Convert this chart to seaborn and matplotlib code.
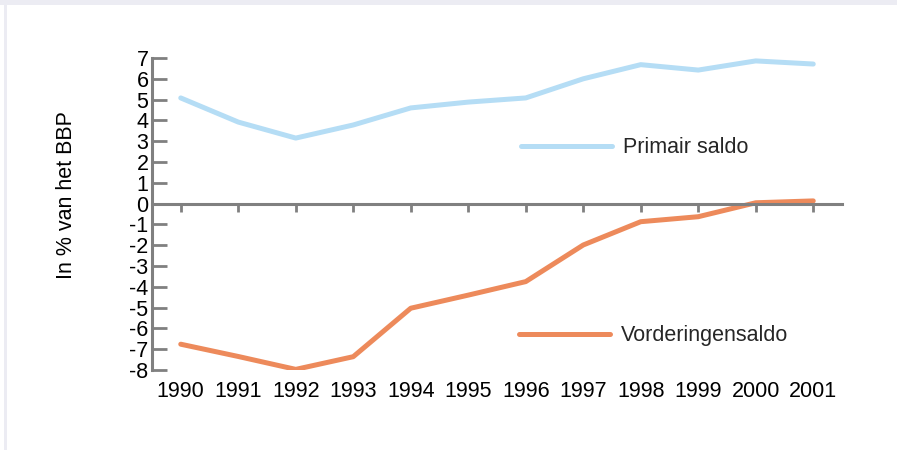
import matplotlib
matplotlib.use("Agg")
import matplotlib.pyplot as plt
import seaborn as sns
import pandas as pd
from matplotlib.patches import Rectangle
from matplotlib.lines import Line2D

# Data
years = [1990, 1991, 1992, 1993, 1994, 1995, 1996, 1997, 1998, 1999, 2000, 2001]
primair_saldo = [5.08, 3.92, 3.15, 3.78, 4.6, 4.88, 5.08, 6.0, 6.68, 6.42, 6.86, 6.71]
vorderingensaldo = [-6.76, -7.35, -7.97, -7.36, -5.03, -4.4, -3.75, -1.99, -0.87, -0.63, 0.04, 0.13]
series_names = ["Primair saldo", "Vorderingensaldo"]
colors = ["#b5ddf5", "#ed8a5b"]

df = pd.DataFrame({"year": years, series_names[0]: primair_saldo, series_names[1]: vorderingensaldo})
long_df = df.melt(id_vars="year", var_name="reeks", value_name="waarde")

sns.set_theme(style="white")
plt.rcParams["font.family"] = ["Liberation Sans", "DejaVu Sans"]
plt.rcParams["axes.unicode_minus"] = False
grey = "#808080"
fs = 15.5

fig = plt.figure(figsize=(8.97, 4.5), dpi=100)
fig.patch.set_facecolor("white")
# light frame like the source page
fig.patches.append(Rectangle((0, 1 - 5 / 450), 1, 5 / 450, transform=fig.transFigure,
                             facecolor="#ececf3", edgecolor="none", zorder=0))
fig.patches.append(Rectangle((4 / 897, 0), 3 / 897, 1 - 5 / 450, transform=fig.transFigure,
                             facecolor="#ececf3", edgecolor="none", zorder=0))

ax = fig.add_axes([152 / 897, 80 / 450, 690 / 897, 312 / 450])
ax.set_facecolor("none")

sns.lineplot(data=long_df, x="year", y="waarde", hue="reeks", palette=colors,
             linewidth=3.6, legend=False, ax=ax, solid_capstyle="round")

ax.set_xlim(1989.5, 2001.5)
ax.set_ylim(-8, 7)

# spines
for s in ["top", "right"]:
    ax.spines[s].set_visible(False)
ax.spines["left"].set_color(grey)
ax.spines["left"].set_linewidth(2.2)
ax.spines["bottom"].set_position(("data", 0))
ax.spines["bottom"].set_color(grey)
ax.spines["bottom"].set_linewidth(2.2)

# y axis
ax.set_yticks(range(-8, 8))
ax.tick_params(axis="y", left=True, direction="in", length=11, width=2, color=grey,
               labelsize=fs, labelcolor="black", pad=2.5)
ax.set_ylabel("In % van het BBP", fontsize=fs, color="black")
ax.yaxis.set_label_coords(-0.108, 0.56)

# x ticks at the zero line, labels at the bottom
ax.set_xticks(years)
ax.tick_params(axis="x", bottom=True, direction="out", length=6, width=2, color=grey,
               labelbottom=False)
sec = ax.secondary_xaxis(0.0)
sec.set_xticks(years)
sec.set_xticklabels([str(y) for y in years])
sec.spines["bottom"].set_visible(False)
sec.tick_params(axis="x", length=0, labelsize=fs, labelcolor="black", pad=8)
ax.set_xlabel("")

# two separate legend entries
h1 = Line2D([], [], color=colors[0], linewidth=3.6, solid_capstyle="round")
h2 = Line2D([], [], color=colors[1], linewidth=3.6, solid_capstyle="round")
leg1 = ax.legend([h1], [series_names[0]], loc="center left", bbox_to_anchor=(0.507, 0.712),
                 frameon=False, fontsize=fs, handlelength=4.2, handletextpad=0.55)
ax.add_artist(leg1)
ax.legend([h2], [series_names[1]], loc="center left", bbox_to_anchor=(0.504, 0.109),
          frameon=False, fontsize=fs, handlelength=4.2, handletextpad=0.55)

fig.savefig("out.png", dpi=100)
